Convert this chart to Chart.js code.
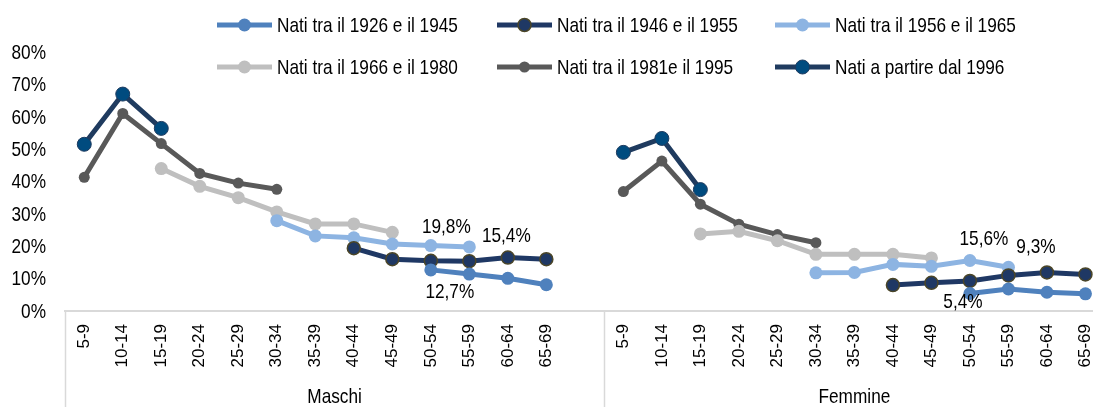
<!DOCTYPE html>
<html>
<head>
<meta charset="utf-8">
<script src="https://cdn.jsdelivr.net/npm/chart.js@4"></script>
<style>
  html, body { margin: 0; padding: 0; background: #fff; overflow: hidden; }
  #wrap { width: 1119px; height: 407px; }
</style>
</head>
<body>
<div id="wrap"><canvas id="myChart" width="1119" height="407"></canvas></div>
<script>
// age groups, Maschi + one empty slot + Femmine
const ageGroups = ["5-9", "10-14", "15-19", "20-24", "25-29", "30-34", "35-39", "40-44", "45-49", "50-54", "55-59", "60-64", "65-69"];
const groups = ["Maschi", "Femmine"];
const labels = ageGroups.concat([""], ageGroups);

const _ = null;
// values in %
const nati1926 = [_, _, _, _, _, _, _, _, _, 12.7, 11.4, 10.1, 8.1, _, _, _, _, _, _, _, _, _, _, 5.4, 6.8, 5.8, 5.3];
const nati1946 = [_, _, _, _, _, _, _, 19.4, 16.0, 15.5, 15.4, 16.5, 16.0, _, _, _, _, _, _, _, _, 8.0, 8.7, 9.3, 11.0, 11.9, 11.3];
const nati1956 = [_, _, _, _, _, 27.9, 23.2, 22.6, 20.7, 20.2, 19.8, _, _, _, _, _, _, _, _, 11.8, 11.9, 14.4, 13.8, 15.6, 13.5, _, _];
const nati1966 = [_, _, 44.0, 38.5, 35.0, 30.6, 26.9, 26.9, 24.3, _, _, _, _, _, _, _, 23.8, 24.6, 21.7, 17.5, 17.5, 17.5, 16.4, _, _, _, _];
const nati1981 = [41.3, 61.0, 51.7, 42.5, 39.5, 37.6, _, _, _, _, _, _, _, _, 36.9, 46.3, 33.0, 26.8, 23.6, 21.1, _, _, _, _, _, _, _];
const nati1996 = [51.5, 67.0, 56.4, _, _, _, _, _, _, _, _, _, _, _, 49.0, 53.3, 37.5, _, _, _, _, _, _, _, _, _, _];

// labelled points: [dataset index, point index, text, dx, dy]
const pointLabels = [
  [2, 10, "19,8%", -23, -20],
  [1, 10, "15,4%", 37, -25],
  [0, 9, "12,7%", 19, 22],
  [2, 23, "15,6%", 14, -21],
  [1, 23, "9,3%", 66, -34],
  [0, 23, "5,4%", -7, 9]
];

// no narrow font installed: squeeze Liberation Sans by hand
function narrowText(c, txt, x, y, align) {
  c.save();
  c.translate(x, y);
  c.scale(0.82, 1);
  c.font = "21px 'Liberation Sans', Arial, sans-serif";
  c.textAlign = align;
  c.textBaseline = "middle";
  c.fillStyle = "#000";
  c.fillText(txt, 0, 0);
  c.restore();
}

function serie(label, data, line, fill, border, radius, bw) {
  return {
    label: label,
    data: data,
    borderColor: line,
    backgroundColor: line,
    borderWidth: 5,
    pointRadius: radius,
    pointHoverRadius: radius,
    pointBackgroundColor: fill,
    pointBorderColor: border,
    pointBorderWidth: bw,
    spanGaps: false,
    tension: 0
  };
}

const dataSets = [
  serie("Nati tra il 1926 e il 1945", nati1926, "#4F81BD", "#4F81BD", "#4F81BD", 6.5, 0),
  serie("Nati tra il 1946 e il 1955", nati1946, "#1F3864", "#1F3864", "#4B4628", 6.5, 1.5),
  serie("Nati tra il 1956 e il 1965", nati1956, "#8DB4E2", "#8DB4E2", "#8DB4E2", 6.5, 0),
  serie("Nati tra il 1966 e il 1980", nati1966, "#BFBFBF", "#BFBFBF", "#BFBFBF", 6.5, 0),
  serie("Nati tra il 1981e il 1995", nati1981, "#595959", "#595959", "#595959", 5.5, 0),
  serie("Nati a partire dal 1996", nati1996, "#1F3B5F", "#004B7F", "#1F3B5F", 7, 1)
];

// legend drawn by hand: 2 rows x 3 columns
const legendPlugin = {
  id: "legendGrid",
  afterDraw(chart) {
    const c = chart.ctx;
    const colX = [217, 497, 775];
    const rowY = [25, 67];
    c.save();
    chart.data.datasets.forEach((ds, i) => {
      const x = colX[i % 3];
      const y = rowY[Math.floor(i / 3)];
      c.strokeStyle = ds.borderColor;
      c.lineWidth = 5;
      c.beginPath();
      c.moveTo(x, y);
      c.lineTo(x + 55, y);
      c.stroke();
      c.beginPath();
      c.arc(x + 27.5, y, ds.pointRadius, 0, Math.PI * 2);
      c.fillStyle = ds.pointBackgroundColor;
      c.fill();
      if (ds.pointBorderWidth) {
        c.lineWidth = ds.pointBorderWidth;
        c.strokeStyle = ds.pointBorderColor;
        c.stroke();
      }
      narrowText(c, ds.label, x + 60, y + 1, "left");
    });
    c.restore();
  }
};

// y tick labels, group labels + separators under the x axis, value labels
const extrasPlugin = {
  id: "extras",
  afterDraw(chart) {
    const c = chart.ctx;
    const xs = chart.scales.x;
    const ys = chart.scales.y;
    const area = chart.chartArea;
    c.save();
    ys.ticks.forEach((t) => {
      narrowText(c, t.value + "%", 46, ys.getPixelForValue(t.value) + 1, "right");
    });
    c.strokeStyle = "#D9D9D9";
    c.lineWidth = 1.5;
    [-0.5, 13.5, 26.5].forEach((v) => {
      const px = Math.round(xs.getPixelForValue(v)) + 0.5;
      c.beginPath();
      c.moveTo(px, area.bottom);
      c.lineTo(px, chart.height);
      c.stroke();
    });
    narrowText(c, groups[0], xs.getPixelForValue(6.5), 397, "center");
    narrowText(c, groups[1], xs.getPixelForValue(20), 397, "center");

    pointLabels.forEach(([d, i, txt, dx, dy]) => {
      const pt = chart.getDatasetMeta(d).data[i];
      narrowText(c, txt, pt.x + dx, pt.y + dy, "center");
    });
    c.restore();
  }
};

var ctx = document.getElementById("myChart").getContext("2d");
var myChart = new Chart(ctx, {
  type: "line",
  data: { labels: labels, datasets: dataSets },
  options: {
    responsive: false,
    animation: false,
    devicePixelRatio: 1,
    layout: { padding: { top: 52, right: 3, left: 0, bottom: 0 } },
    plugins: {
      legend: { display: false },
      tooltip: { enabled: false }
    },
    scales: {
      x: {
        offset: true,
        grid: { display: false, drawTicks: false },
        border: { display: true, color: "#D9D9D9", width: 2 },
        ticks: {
          autoSkip: false,
          minRotation: 90,
          maxRotation: 90,
          padding: 13,
          color: "#000",
          font: { family: "'Liberation Sans', Arial, sans-serif", size: 17 }
        },
        afterFit(scale) { scale.height = 96; }
      },
      y: {
        min: 0,
        max: 80,
        grid: { display: false, drawTicks: false },
        border: { display: false },
        ticks: { stepSize: 10, display: false },
        afterFit(scale) { scale.width = 65; }
      }
    }
  },
  plugins: [legendPlugin, extrasPlugin]
});
</script>
</body>
</html>
